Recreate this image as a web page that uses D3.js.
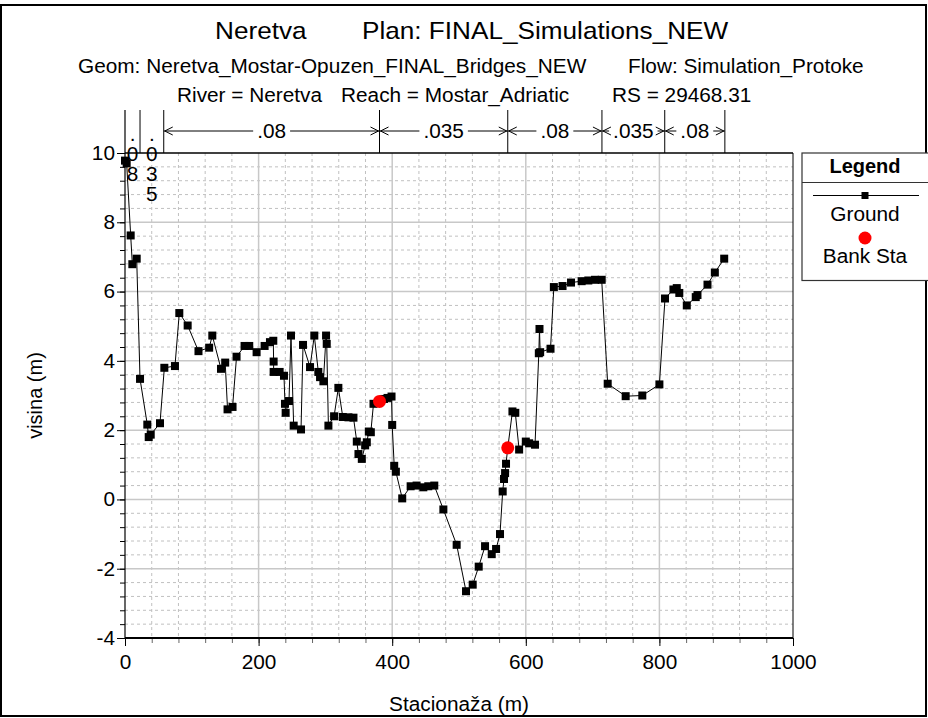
<!DOCTYPE html>
<html><head><meta charset="utf-8">
<script src="https://cdn.jsdelivr.net/npm/d3@7"></script>
<style>
body{margin:0;background:#fff}
svg{display:block}
text{font-family:"Liberation Sans",Arial,sans-serif;fill:#000}
</style>
</head><body>
<svg id="c" width="928" height="718"></svg>
<script>
// ---------- data ----------
const groundX = [0,2.5,8.5,11,17.5,22.5,33.4,35.5,38.5,52.4,58.9,74.8,81.3,93.8,110,126,130.7,143.7,150,153.5,161,167,179,186,197,209,217,222,222.5,222.5,231.5,238,239.5,240.5,245.5,248.5,252.5,263.5,266.5,277,283.4,289.4,292,297,301,302,304.5,313,319.4,326,334.5,342,347,349.5,354.5,359.5,362,365,368,372,381,388,393,399,400,403,405.5,415,427.6,436.5,446.6,454,463,476.6,496.5,510.5,520.5,529.5,539,549,555.5,561.4,565.4,567.4,569,570.4,573,580,584.3,590,600,605,613.8,619.5,620.5,621.5,637,642,655,667.7,683.6,693.6,703.6,713.6,722.6,749.5,774.4,800,808.4,821,826,829.8,841,854.4,857,872,883,897];
const groundY = [9.78,9.7,7.62,6.79,6.95,3.48,2.16,1.8,1.87,2.2,3.8,3.85,5.38,5.02,4.28,4.38,4.73,3.77,3.95,2.6,2.67,4.12,4.43,4.43,4.25,4.43,4.54,4.58,3.98,3.68,3.68,3.57,2.76,2.5,2.84,4.73,2.13,2.02,4.46,3.82,4.73,3.68,3.53,3.41,4.73,4.49,2.13,2.4,3.22,2.38,2.37,2.36,1.67,1.31,1.17,1.56,1.65,1.96,1.94,2.76,2.83,2.9,2.93,2.97,2.15,0.97,0.8,0.03,0.38,0.4,0.35,0.38,0.4,-0.29,-1.31,-2.65,-2.46,-1.94,-1.35,-1.58,-1.43,-1.0,0.23,0.59,0.76,1.03,1.49,2.54,2.5,1.44,1.67,1.62,1.58,4.22,4.92,4.25,4.35,6.13,6.16,6.26,6.3,6.32,6.34,6.34,3.34,2.98,3.0,3.32,5.8,6.06,6.1,5.96,5.6,5.84,5.9,6.2,6.55,6.95];
const bankX = [381, 573];
const bankY = [2.83, 1.49];
const nBounds = [0, 22.5, 58, 381, 573, 714, 808, 898];
const nValues = [".08", ".035", ".08", ".035", ".08", ".035", ".08"];
const xTicks = [0, 200, 400, 600, 800, 1000];
const yTicks = [-4, -2, 0, 2, 4, 6, 8, 10];
const titleLine1 = ["Neretva", "Plan: FINAL_Simulations_NEW"];
const titleLine2 = ["Geom: Neretva_Mostar-Opuzen_FINAL_Bridges_NEW", "Flow: Simulation_Protoke"];
const titleLine3 = ["River = Neretva", "Reach = Mostar_Adriatic", "RS = 29468.31"];
const legendItems = ["Ground", "Bank Sta"];

// ---------- setup ----------
const FS = 20, SX = 1.04;
const svg = d3.select('#c');
const x = d3.scaleLinear().domain([0, 1000]).range([125, 793]);
const y = d3.scaleLinear().domain([-4, 10]).range([638, 153]);

function label(g, s, px, py, size, anchor, weight, sx) {
  return g.append('text')
    .attr('transform', `translate(${px},${py}) scale(${sx || SX},1)`)
    .attr('text-anchor', anchor || 'start')
    .style('font-size', size + 'px')
    .style('font-weight', weight || 'normal')
    .text(s);
}

// outer frame
svg.append('rect').attr('x', 1).attr('y', 5).attr('width', 925).attr('height', 711)
  .attr('fill', 'none').attr('stroke', '#000').attr('stroke-width', 2);

// titles
label(svg, titleLine1[0], 215, 39, 24, 'start', 'normal', 1.09);
label(svg, titleLine1[1], 362, 39, 24, 'start', 'normal', 1.09);
label(svg, titleLine2[0], 78, 72.5, FS);
label(svg, titleLine2[1], 628, 72.5, FS);
label(svg, titleLine3[0], 177, 101.5, FS);
label(svg, titleLine3[1], 341, 101.5, FS);
label(svg, titleLine3[2], 612, 101.5, FS);

// ---------- grid ----------
const grid = svg.append('g');
const xMinor = d3.range(40, 1000, 40).filter(v => v % 200 !== 0);
const xMajor = [200, 400, 600, 800];
const yAll = d3.range(0, 36).map(k => +(-4 + 0.4 * k).toFixed(1));
const yMinor = yAll.filter((v, k) => k % 5 !== 0);
const yMajor = [-2, 0, 2, 4, 6, 8];

grid.selectAll('.vx').data(xMinor).join('line')
  .attr('x1', d => x(d)).attr('x2', d => x(d)).attr('y1', y(10)).attr('y2', y(-4))
  .attr('stroke', '#c0c0c0').attr('stroke-dasharray', '3,3').attr('stroke-width', 1);
grid.selectAll('.hy').data(yMinor).join('line')
  .attr('y1', d => y(d)).attr('y2', d => y(d)).attr('x1', x(0)).attr('x2', x(1000))
  .attr('stroke', '#c0c0c0').attr('stroke-dasharray', '3,3').attr('stroke-width', 1);
grid.selectAll('.vX').data(xMajor).join('line')
  .attr('x1', d => x(d)).attr('x2', d => x(d)).attr('y1', y(10)).attr('y2', y(-4))
  .attr('stroke', '#c8c8c8').attr('stroke-width', 1.5);
grid.selectAll('.hY').data(yMajor).join('line')
  .attr('y1', d => y(d)).attr('y2', d => y(d)).attr('x1', x(0)).attr('x2', x(1000))
  .attr('stroke', '#c8c8c8').attr('stroke-width', 1.5);

// ---------- axes ----------
function styleLabels(g) {
  g.selectAll('text').each(function () {
    const t = d3.select(this);
    const tx = +t.attr('x') || 0, ty = +t.attr('y') || 0;
    t.attr('x', null).attr('y', null)
      .attr('transform', `translate(${tx},${ty}) scale(${SX},1)`);
  });
  g.selectAll('text').style('font-size', FS + 'px').style('font-family', '"Liberation Sans",Arial,sans-serif');
}
const fmt = d => String(d);

const yMinorAxis = svg.append('g').attr('transform', `translate(${x(0)},0)`)
  .call(d3.axisLeft(y).tickValues(yAll).tickSize(5).tickFormat(''));
yMinorAxis.select('.domain').remove();
const yAxis = svg.append('g').attr('transform', `translate(${x(0)},0)`)
  .call(d3.axisLeft(y).tickValues(yTicks).tickSize(8).tickPadding(2).tickFormat(fmt));
yAxis.select('.domain').remove();
styleLabels(yAxis);

const xMinorAxis = svg.append('g').attr('transform', `translate(0,${y(-4)})`)
  .call(d3.axisBottom(x).tickValues(d3.range(0, 1001, 40)).tickSize(5).tickFormat(''));
xMinorAxis.select('.domain').remove();
xMinorAxis.selectAll('line').attr('stroke', '#666');
const xAxis = svg.append('g').attr('transform', `translate(0,${y(-4)})`)
  .call(d3.axisBottom(x).tickValues(xTicks).tickSize(8).tickPadding(9).tickFormat(fmt));
xAxis.select('.domain').remove();
styleLabels(xAxis);

// plot frame lines
svg.append('line').attr('x1', x(0)).attr('x2', x(0)).attr('y1', 110).attr('y2', y(-4)).attr('stroke', '#000').attr('stroke-width', 1.2);
svg.append('line').attr('x1', x(1000)).attr('x2', x(1000)).attr('y1', y(10)).attr('y2', y(-4)).attr('stroke', '#000').attr('stroke-width', 1);
svg.append('line').attr('x1', x(0)).attr('x2', x(1000)).attr('y1', y(-4)).attr('y2', y(-4)).attr('stroke', '#000').attr('stroke-width', 2);
svg.append('line').attr('x1', x(0)).attr('x2', x(1000)).attr('y1', y(10)).attr('y2', y(10)).attr('stroke', '#000').attr('stroke-width', 1.5);

// axis titles
label(svg, 'Stacionaža (m)', 459, 711, FS, 'middle');
svg.append('text')
  .attr('transform', `translate(42,${(y(10) + y(-4)) / 2}) rotate(-90)`)
  .attr('text-anchor', 'middle').style('font-size', FS + 'px').text('visina (m)');

// ---------- Manning's n band ----------
const band = svg.append('g');
band.selectAll('line.nb').data(nBounds.slice(1)).join('line')
  .attr('x1', d => x(d)).attr('x2', d => x(d)).attr('y1', 110).attr('y2', y(10))
  .attr('stroke', '#000').attr('stroke-width', 1);
const ay = 131;
nValues.forEach((v, i) => {
  const a = x(nBounds[i]), b = x(nBounds[i + 1]);
  const mid = (a + b) / 2;
  const t = label(band, v, mid, 138, FS, 'middle');
  const w = t.node().getComputedTextLength() * SX;
  if (w + 6 > b - a) {
    t.remove();
    v.split('').forEach((ch, k) => {
      label(band, ch, mid, 141 + 20 * k, FS, 'middle');
    });
    return;
  }
  const l1 = mid - w / 2 - 4, r1 = mid + w / 2 + 4;
  if (l1 > a) band.append('line').attr('x1', a).attr('x2', l1).attr('y1', ay).attr('y2', ay).attr('stroke', '#000');
  if (r1 < b) band.append('line').attr('x1', r1).attr('x2', b).attr('y1', ay).attr('y2', ay).attr('stroke', '#000');
  band.append('path').attr('d', `M${a + 9},${ay - 4}L${a + 1},${ay}L${a + 9},${ay + 4}`).attr('fill', 'none').attr('stroke', '#000');
  band.append('path').attr('d', `M${b - 9},${ay - 4}L${b - 1},${ay}L${b - 9},${ay + 4}`).attr('fill', 'none').attr('stroke', '#000');
});

// ---------- ground line ----------
const pts = groundX.map((gx, i) => [gx, groundY[i]]);
svg.append('path').datum(pts)
  .attr('d', d3.line().x(d => x(d[0])).y(d => y(d[1])))
  .attr('fill', 'none').attr('stroke', '#000').attr('stroke-width', 1);
svg.append('g').selectAll('rect').data(pts).join('rect')
  .attr('x', d => x(d[0]) - 4).attr('y', d => y(d[1]) - 4)
  .attr('width', 8).attr('height', 8).attr('fill', '#000');

// bank stations
svg.append('g').selectAll('circle').data(bankX.map((bx, i) => [bx, bankY[i]])).join('circle')
  .attr('cx', d => x(d[0])).attr('cy', d => y(d[1])).attr('r', 6.5).attr('fill', '#ff0000');

// ---------- legend ----------
const lg = svg.append('g');
lg.append('rect').attr('x', 802).attr('y', 153).attr('width', 130).attr('height', 127.5)
  .attr('fill', '#fff').attr('stroke', '#333').attr('stroke-width', 1.2);
lg.append('line').attr('x1', 802).attr('x2', 928).attr('y1', 182.5).attr('y2', 182.5).attr('stroke', '#333').attr('stroke-width', 1.2);
label(lg, 'Legend', 865, 173, FS, 'middle', 'bold', 1);
lg.append('line').attr('x1', 813).attr('x2', 919).attr('y1', 195.5).attr('y2', 195.5).attr('stroke', '#000');
lg.append('rect').attr('x', 861.5).attr('y', 192).attr('width', 7).attr('height', 7).attr('fill', '#000');
label(lg, legendItems[0], 865, 220.5, FS, 'middle');
lg.append('circle').attr('cx', 865).attr('cy', 238).attr('r', 6.5).attr('fill', '#ff0000');
label(lg, legendItems[1], 865, 263, FS, 'middle');
</script>
</body></html>
